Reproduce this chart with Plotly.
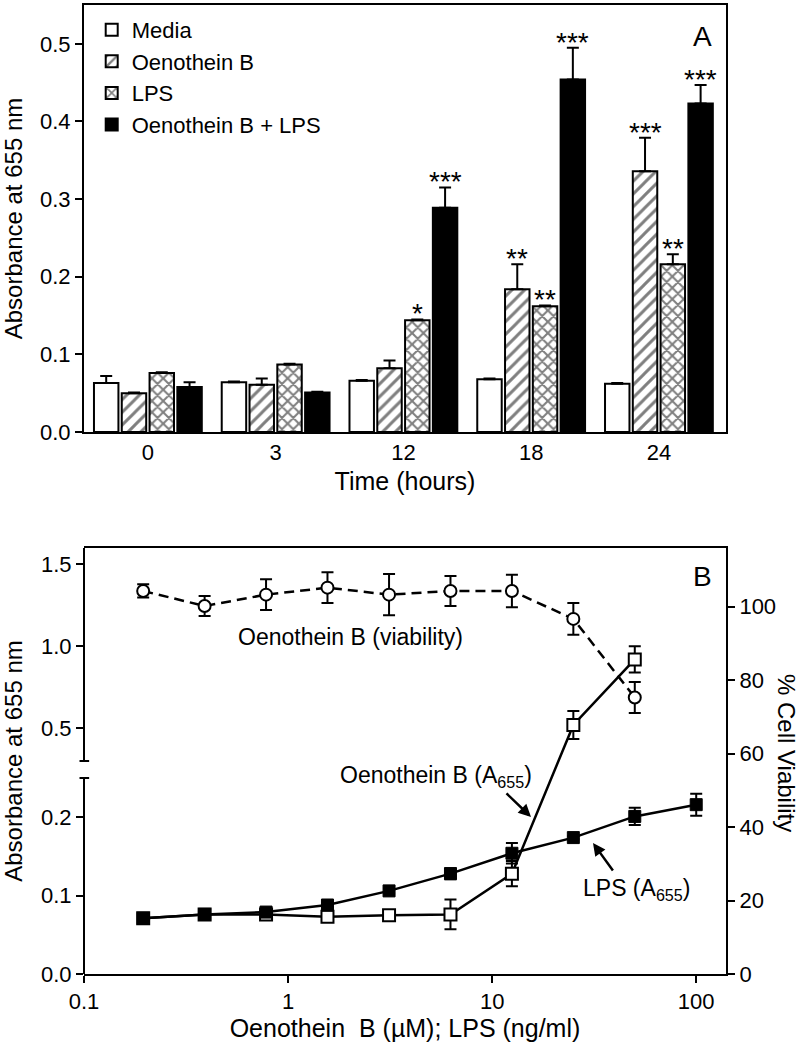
import plotly.graph_objects as go

# ---------------- Panel A data ----------------
time_labels = ["0", "3", "12", "18", "24"]
series_names = ["Media", "Oenothein B", "LPS", "Oenothein B + LPS"]
media = [0.063, 0.064, 0.066, 0.068, 0.062]
media_err = [0.009, 0.001, 0.001, 0.001, 0.001]
oeno = [0.050, 0.061, 0.082, 0.184, 0.336]
oeno_err = [0.001, 0.008, 0.010, 0.032, 0.043]
lps = [0.076, 0.087, 0.144, 0.162, 0.216]
lps_err = [0.001, 0.001, 0.001, 0.001, 0.013]
both = [0.058, 0.051, 0.289, 0.454, 0.423]
both_err = [0.006, 0.001, 0.026, 0.041, 0.024]
media_sig = ["", "", "", "", ""]
oeno_sig = ["", "", "", "**", "***"]
lps_sig = ["", "", "*", "**", "**"]
both_sig = ["", "", "***", "***", "***"]

# ---------------- Panel B data ----------------
lps_conc = [0.195, 0.39, 0.78, 1.56, 3.125, 6.25, 12.5, 25, 50, 100]
lps_abs = [0.071, 0.076, 0.079, 0.088, 0.106, 0.128, 0.154, 0.174, 0.201, 0.216]
lps_abs_err = [0.002, 0.002, 0.002, 0.003, 0.003, 0.007, 0.013, 0.002, 0.011, 0.014]
oeno_conc = [0.195, 0.39, 0.78, 1.56, 3.125, 6.25, 12.5, 25, 50]
oeno_abs = [0.071, 0.076, 0.076, 0.073, 0.075, 0.076, 0.128, 0.52, 0.92]
oeno_abs_err = [0.001, 0.001, 0.002, 0.002, 0.002, 0.019, 0.016, 0.085, 0.08]
viability = [104.3, 100.2, 103.3, 105.2, 103.3, 104.3, 104.3, 96.7, 75.3]
viability_err = [1.8, 2.7, 4.2, 4.2, 5.6, 4.1, 4.4, 4.3, 4.2]
left_ticks = [0.0, 0.1, 0.2, 0.5, 1.0, 1.5]
right_ticks = [0, 20, 40, 60, 80, 100]

# broken-axis scale for panel B (lower part 0-0.25, upper part 0.3-1.6)
BRK_LO, BRK_HI, GAP, TOP_SCALE, TOP_MAX = 0.25, 0.30, 0.0217, 0.209, 1.6


def brk(v):
    if v <= BRK_LO:
        return v
    return BRK_LO + GAP + (v - BRK_HI) * TOP_SCALE


def brk_err(vals, errs):
    plus = [brk(v + e) - brk(v) for v, e in zip(vals, errs)]
    minus = [brk(v) - brk(v - e) for v, e in zip(vals, errs)]
    return plus, minus


FONT = "Liberation Sans, Arial, sans-serif"
W, H = 808, 1050
ML, MR, MT, MB = 84, 82, 5, 76
PW = W - ML - MR
PH = H - MT - MB


def px_x(p):
    return (p - ML) / PW


def px_y(p):
    return (H - MB - p) / PH


fig = go.Figure()

# ---- Panel A bars ----
n_series = 4
group_w = 0.87
slot = group_w / n_series
bar_w = slot * 0.88
idx = list(range(len(time_labels)))
patterns = ["", "/", "x", ""]
colors = ["white", "white", "white", "black"]
pat_size = [8, 9, 8, 8]
solid = [0.2, 0.33, 0.45, 0.2]
vals_all = [media, oeno, lps, both]
errs_all = [media_err, oeno_err, lps_err, both_err]
sigs_all = [media_sig, oeno_sig, lps_sig, both_sig]

for i in range(n_series):
    off = -group_w / 2 + i * slot + (slot - bar_w) / 2
    fig.add_trace(go.Bar(
        x=idx, y=vals_all[i], name=series_names[i],
        offset=off, width=bar_w,
        marker=dict(color=colors[i], line=dict(color="black", width=2),
                    pattern=dict(shape=patterns[i], fgcolor="black", bgcolor=colors[i],
                                 size=pat_size[i], solidity=solid[i])),
        error_y=dict(type="data", symmetric=False, array=errs_all[i],
                     arrayminus=[0] * len(idx), color="black", thickness=2, width=6),
        xaxis="x", yaxis="y", showlegend=True,
    ))
    for k in idx:
        if sigs_all[i][k]:
            fig.add_annotation(
                x=k + off + bar_w / 2, y=vals_all[i][k] + errs_all[i][k],
                xref="x", yref="y", text=sigs_all[i][k], showarrow=False,
                xanchor="center", yanchor="bottom", yshift=-12,
                font=dict(size=28, color="black", family=FONT),
            )

# ---- Panel B traces ----
fig.add_trace(go.Scatter(
    x=oeno_conc, y=viability, mode="lines+markers", xaxis="x2", yaxis="y3",
    line=dict(color="black", width=2.5, dash="10px,6px"),
    marker=dict(symbol="circle", size=12, color="white", line=dict(color="black", width=2)),
    error_y=dict(type="data", array=viability_err, color="black", thickness=2, width=6),
    showlegend=False,
))
op, om = brk_err(oeno_abs, oeno_abs_err)
fig.add_trace(go.Scatter(
    x=oeno_conc, y=[brk(v) for v in oeno_abs], mode="lines+markers", xaxis="x2", yaxis="y2",
    line=dict(color="black", width=2.5),
    marker=dict(symbol="square", size=12, color="white", line=dict(color="black", width=2)),
    error_y=dict(type="data", symmetric=False, array=op, arrayminus=om, color="black", thickness=2, width=6),
    showlegend=False,
))
lp, lm = brk_err(lps_abs, lps_abs_err)
fig.add_trace(go.Scatter(
    x=lps_conc, y=[brk(v) for v in lps_abs], mode="lines+markers", xaxis="x2", yaxis="y2",
    line=dict(color="black", width=2.5),
    marker=dict(symbol="square", size=12, color="black", line=dict(color="black", width=1)),
    error_y=dict(type="data", symmetric=False, array=lp, arrayminus=lm, color="black", thickness=2, width=6),
    showlegend=False,
))

A_bottom = px_y(432)
B_top = px_y(548)

axis_common = dict(color="black", linecolor="black", linewidth=2, tickcolor="black",
                   tickwidth=2, showgrid=False, zeroline=False, automargin=False,
                   tickfont=dict(family=FONT, size=22, color="black"))

fig.update_layout(
    width=W, height=H,
    margin=dict(l=ML, r=MR, t=MT, b=MB),
    paper_bgcolor="white", plot_bgcolor="white",
    font=dict(family=FONT, color="black"),
    barmode="overlay",
    hovermode=False,
    xaxis=dict(axis_common, domain=[0, 1], anchor="y", range=[-0.5, 4.525],
               tickmode="array", tickvals=idx, ticktext=time_labels, ticks="",
               showline=True, mirror=True,
               title=dict(text="Time (hours)", font=dict(size=25, family=FONT), standoff=8)),
    yaxis=dict(axis_common, domain=[A_bottom, 1], anchor="x", range=[0, 0.55],
               tickmode="array", tickvals=[0, 0.1, 0.2, 0.3, 0.4, 0.5], tickformat=".1f",
               ticks="outside", ticklen=7, showline=True, mirror=True,
               title=dict(text="Absorbance at 655 nm", font=dict(size=24, family=FONT), standoff=12)),
    xaxis2=dict(axis_common, domain=[0, 1], anchor="y2", type="log",
                range=[-1, 2.146], tickmode="array", tickvals=[0.1, 1, 10, 100],
                ticktext=["0.1", "1", "10", "100"], ticks="outside", ticklen=7,
                showline=True, mirror=True,
                title=dict(text="Oenothein  B (\u00b5M); LPS (ng/ml)", font=dict(size=25, family=FONT), standoff=6)),
    yaxis2=dict(axis_common, domain=[0, B_top], anchor="x2", range=[0, brk(TOP_MAX)],
                tickmode="array", tickvals=[brk(t) for t in left_ticks],
                ticktext=["%.1f" % t for t in left_ticks], ticks="outside", ticklen=7,
                showline=False,
                title=dict(text="Absorbance at 655 nm", font=dict(size=24, family=FONT), standoff=12)),
    yaxis3=dict(axis_common, overlaying="y2", side="right", anchor="x2", range=[0, 116],
                tickmode="array", tickvals=right_ticks, ticks="outside", ticklen=7,
                showline=True),
    legend=dict(x=0.012, y=0.996, xanchor="left", yanchor="top", bgcolor="rgba(0,0,0,0)",
                font=dict(size=22, family=FONT, color="black"), traceorder="normal",
                itemwidth=30, tracegroupgap=2),
)

# broken left axis line for panel B
fig.add_shape(type="line", xref="x2 domain", yref="y2", x0=0, x1=0, y0=0, y1=brk(BRK_LO),
              line=dict(color="black", width=2))
fig.add_shape(type="line", xref="x2 domain", yref="y2", x0=0, x1=0, y0=brk(BRK_HI), y1=brk(TOP_MAX),
              line=dict(color="black", width=2))
for yb in (brk(BRK_LO), brk(BRK_HI)):
    fig.add_shape(type="line", xref="x2 domain", yref="y2", x0=-0.007, x1=0.008, y0=yb, y1=yb,
                  line=dict(color="black", width=2))

ann_font = dict(family=FONT, size=23, color="black")
fig.add_annotation(text="A", xref="x domain", yref="y domain", x=0.963, y=0.927,
                   xanchor="center", yanchor="middle", showarrow=False,
                   font=dict(family=FONT, size=28, color="black"))
fig.add_annotation(text="B", xref="x2 domain", yref="y2 domain", x=0.963, y=0.932,
                   xanchor="center", yanchor="middle", showarrow=False,
                   font=dict(family=FONT, size=28, color="black"))
fig.add_annotation(text="Oenothein B (viability)", xref="paper", yref="paper",
                   x=px_x(350), y=px_y(637), xanchor="center", yanchor="middle",
                   showarrow=False, font=ann_font)
fig.add_annotation(text="Oenothein B (A<sub>655</sub>)", xref="paper", yref="paper",
                   x=px_x(436), y=px_y(776), xanchor="center", yanchor="middle",
                   showarrow=False, font=ann_font)
fig.add_annotation(text="LPS (A<sub>655</sub>)", xref="paper", yref="paper",
                   x=px_x(636), y=px_y(889), xanchor="center", yanchor="middle",
                   showarrow=False, font=ann_font)
fig.add_annotation(text="", xref="paper", yref="paper",
                   x=px_x(531), y=px_y(817), ax=-26, ay=-25,
                   showarrow=True, arrowhead=2, arrowsize=1, arrowwidth=2.5, arrowcolor="black")
fig.add_annotation(text="", xref="paper", yref="paper",
                   x=px_x(593), y=px_y(843), ax=21, ay=29,
                   showarrow=True, arrowhead=2, arrowsize=1, arrowwidth=2.5, arrowcolor="black")
fig.add_annotation(text="% Cell Viability", xref="paper", yref="paper",
                   x=px_x(787), y=px_y(753), textangle=90, xanchor="center", yanchor="middle",
                   showarrow=False, font=dict(family=FONT, size=24, color="black"))

fig.write_html("out.html", config={"displayModeBar": False},
               post_script="document.body.style.margin='0';")
